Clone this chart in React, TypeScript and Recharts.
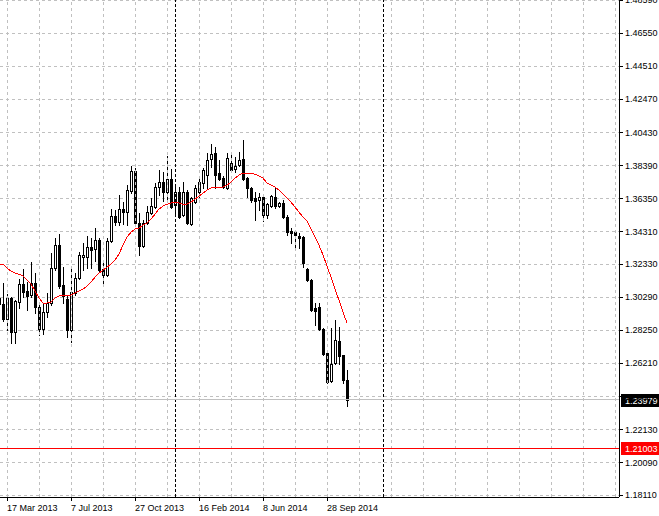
import React from "react";
import { ComposedChart, XAxis, YAxis, Bar, Line, ReferenceLine, CartesianGrid } from "recharts";

// week offset of first candle, relative to the week of 17 Mar 2013
const firstWeek = -2;

const opens = [
  1.2987, 1.2987, 1.2894, 1.3024, 1.2814, 1.2999, 1.3110, 1.3067, 1.3042, 1.3116,
  1.2968, 1.2833, 1.2937, 1.2993, 1.3208, 1.3350, 1.3104, 1.3017, 1.2827, 1.3054,
  1.3147, 1.3276, 1.3276, 1.3338, 1.3325, 1.3381, 1.3202, 1.3165, 1.3375, 1.3529,
  1.3492, 1.3572, 1.3553, 1.3682, 1.3806, 1.3486, 1.3344, 1.3486, 1.3547, 1.3584,
  1.3707, 1.3738, 1.3676, 1.3757, 1.3596, 1.3676, 1.3535, 1.3676, 1.3479, 1.3615,
  1.3676, 1.3732, 1.3781, 1.3880, 1.3916, 1.3793, 1.3763, 1.3701, 1.3855, 1.3818,
  1.3843, 1.3880, 1.3763, 1.3701, 1.3639, 1.3627, 1.3646, 1.3535, 1.3590, 1.3646,
  1.3590, 1.3609, 1.3522, 1.3436, 1.3430, 1.3405, 1.3399, 1.3202, 1.3134, 1.2962,
  1.2968, 1.2833, 1.2685, 1.2513, 1.2624, 1.2759, 1.2673, 1.2519,
];
const highs = [
  1.3061, 1.3116, 1.3048, 1.3030, 1.3011, 1.3141, 1.3202, 1.3122, 1.3245, 1.3178,
  1.2993, 1.2987, 1.3054, 1.3301, 1.3393, 1.3418, 1.3215, 1.3042, 1.3215, 1.3178,
  1.3307, 1.3362, 1.3405, 1.3393, 1.3455, 1.3393, 1.3245, 1.3393, 1.3572, 1.3565,
  1.3658, 1.3615, 1.3720, 1.3837, 1.3824, 1.3547, 1.3504, 1.3590, 1.3639, 1.3732,
  1.3812, 1.3800, 1.3898, 1.3818, 1.3720, 1.3707, 1.3738, 1.3689, 1.3646, 1.3720,
  1.3769, 1.3824, 1.3916, 1.3972, 1.3953, 1.3873, 1.3775, 1.3916, 1.3904, 1.3892,
  1.3923, 1.3996, 1.3769, 1.3707, 1.3676, 1.3670, 1.3652, 1.3609, 1.3658, 1.3707,
  1.3615, 1.3627, 1.3535, 1.3455, 1.3442, 1.3424, 1.3405, 1.3208, 1.3141, 1.2993,
  1.2993, 1.2839, 1.2704, 1.2839, 1.2888, 1.2845, 1.2673, 1.2580,
];
const lows = [
  1.2950, 1.2882, 1.2827, 1.2746, 1.2746, 1.2962, 1.3030, 1.2950, 1.3030, 1.2931,
  1.2796, 1.2802, 1.2907, 1.2981, 1.3196, 1.3085, 1.2993, 1.2783, 1.2753, 1.3042,
  1.3141, 1.3196, 1.3208, 1.3208, 1.3251, 1.3184, 1.3104, 1.3159, 1.3369, 1.3473,
  1.3473, 1.3479, 1.3473, 1.3670, 1.3479, 1.3289, 1.3338, 1.3479, 1.3541, 1.3578,
  1.3658, 1.3621, 1.3621, 1.3578, 1.3535, 1.3516, 1.3529, 1.3479, 1.3473, 1.3609,
  1.3646, 1.3701, 1.3701, 1.3830, 1.3701, 1.3750, 1.3701, 1.3695, 1.3800, 1.3800,
  1.3837, 1.3750, 1.3646, 1.3615, 1.3504, 1.3565, 1.3498, 1.3516, 1.3584, 1.3578,
  1.3584, 1.3516, 1.3412, 1.3362, 1.3332, 1.3332, 1.3215, 1.3128, 1.2944, 1.2857,
  1.2827, 1.2673, 1.2500, 1.2507, 1.2618, 1.2618, 1.2500, 1.2359,
];
const closes = [
  1.3024, 1.2894, 1.3024, 1.2814, 1.3005, 1.3110, 1.3061, 1.3036, 1.3116, 1.2968,
  1.2833, 1.2937, 1.2993, 1.3208, 1.3350, 1.3098, 1.3036, 1.2827, 1.3061, 1.3147,
  1.3289, 1.3289, 1.3338, 1.3319, 1.3381, 1.3196, 1.3165, 1.3375, 1.3529, 1.3492,
  1.3572, 1.3553, 1.3689, 1.3806, 1.3486, 1.3344, 1.3486, 1.3553, 1.3590, 1.3707,
  1.3738, 1.3676, 1.3757, 1.3584, 1.3676, 1.3522, 1.3676, 1.3486, 1.3639, 1.3701,
  1.3738, 1.3812, 1.3873, 1.3910, 1.3781, 1.3757, 1.3707, 1.3886, 1.3812, 1.3837,
  1.3873, 1.3757, 1.3701, 1.3627, 1.3621, 1.3646, 1.3535, 1.3602, 1.3652, 1.3590,
  1.3609, 1.3522, 1.3430, 1.3424, 1.3412, 1.3393, 1.3239, 1.3134, 1.2950, 1.2944,
  1.2833, 1.2679, 1.2507, 1.2618, 1.2765, 1.2667, 1.2519, 1.23979,
];
const maValues = [
  1.3233, 1.3233, 1.3208, 1.3190, 1.3178, 1.3171, 1.3159, 1.3134, 1.3110, 1.3067,
  1.3024, 1.2993, 1.2993, 1.2999, 1.3024, 1.3036, 1.3042, 1.3042, 1.3042, 1.3054,
  1.3067, 1.3079, 1.3098, 1.3122, 1.3153, 1.3178, 1.3196, 1.3215, 1.3233, 1.3258,
  1.3295, 1.3350, 1.3399, 1.3430, 1.3449, 1.3455, 1.3473, 1.3486, 1.3510, 1.3541,
  1.3572, 1.3590, 1.3602, 1.3609, 1.3615, 1.3609, 1.3602, 1.3602, 1.3615, 1.3633,
  1.3652, 1.3670, 1.3689, 1.3701, 1.3707, 1.3707, 1.3707, 1.3720, 1.3738, 1.3763,
  1.3781, 1.3793, 1.3793, 1.3793, 1.3787, 1.3775, 1.3763, 1.3732, 1.3720, 1.3707,
  1.3689, 1.3664, 1.3639, 1.3615, 1.3584, 1.3553, 1.3522, 1.3498, 1.3449, 1.3399,
  1.3350, 1.3289, 1.3221, 1.3153, 1.3079, 1.3011, 1.2937, 1.2870,
];

const dateTicks = [0, 16, 32, 48, 64, 80];
const dateLabels = ["17 Mar 2013", "7 Jul 2013", "27 Oct 2013", "16 Feb 2014", "8 Jun 2014", "28 Sep 2014"];
const gridWeeks = [0, 8, 16, 24, 32, 40, 48, 56, 64, 72, 80, 88, 96, 104, 112, 120, 128, 136, 144, 152];
const yearSeparators = [42, 94];
const priceTicks = [
  1.4859, 1.4655, 1.4451, 1.4247, 1.4043, 1.3839, 1.3635, 1.3431,
  1.3233, 1.3029, 1.2825, 1.2621, 1.2417, 1.2213, 1.2009, 1.1811,
];
const bidPrice = 1.23979;
const levelPrice = 1.21003;
const weekDomain = [-1.75, 153];
const priceDomain = [1.17987, 1.48595];

const data = opens.map((o, k) => ({
  w: firstWeek + k,
  open: o,
  high: highs[k],
  low: lows[k],
  close: closes[k],
  range: [lows[k], highs[k]],
  ma: maValues[k],
}));

const FONT = "'Liberation Sans', Arial, sans-serif";

const Candle = (props: any) => {
  const { x, y, width, height, payload } = props;
  if (x == null || y == null || !payload) return null;
  const top = Math.min(y, y + height);
  const h = Math.abs(height);
  const { open, close, high, low } = payload;
  const span = high - low || 1;
  const py = (v: number) => top + ((high - v) / span) * h;
  const cx = Math.round(x + width / 2);
  const yo = py(open);
  const yc = py(close);
  const bull = close >= open;
  const bTop = Math.round(Math.min(yo, yc));
  const bBot = Math.round(Math.max(yo, yc));
  return (
    <g shapeRendering="crispEdges">
      <line x1={cx + 0.5} x2={cx + 0.5} y1={Math.round(top)} y2={Math.round(top + h) + 1} stroke="#000" strokeWidth={1} />
      {bull ? (
        <rect x={cx - 0.5} y={bTop + 0.5} width={2} height={Math.max(bBot - bTop, 1)} fill="#fff" stroke="#000" strokeWidth={1} />
      ) : (
        <rect x={cx - 1} y={bTop} width={3} height={Math.max(bBot - bTop + 1, 1)} fill="#000" />
      )}
    </g>
  );
};

const XTick = (props: any) => {
  const { x, y, payload } = props;
  const idx = dateTicks.indexOf(payload.value);
  return (
    <text x={x} y={y + 8} textAnchor="start" fontFamily={FONT} fontSize={9} fill="#000">
      {idx >= 0 ? dateLabels[idx] : ""}
    </text>
  );
};

const YTick = (props: any) => {
  const { x, y, payload } = props;
  return (
    <text x={x} y={y + 3} textAnchor="start" fontFamily={FONT} fontSize={9} fill="#000">
      {Number(payload.value).toFixed(5)}
    </text>
  );
};

const PriceTag = (props: any) => {
  const { viewBox, fill, text } = props;
  if (!viewBox) return null;
  const left = viewBox.x + viewBox.width + 2;
  const cy = viewBox.y;
  return (
    <g>
      <rect x={left} y={Math.round(cy) - 6} width={38} height={13} fill={fill} />
      <text x={left + 4} y={Math.round(cy) + 4} textAnchor="start" fontFamily={FONT} fontSize={9} fill="#fff">
        {text}
      </text>
    </g>
  );
};

export default function App() {
  return (
    <div className="mt4" style={{ position: "absolute", left: 0, top: 0, width: 659, height: 516, background: "#fff" }}>
      <style>{`.mt4 svg line, .mt4 svg path, .mt4 svg rect { shape-rendering: crispEdges; }`}</style>
      <ComposedChart width={659} height={516} data={data} margin={{ top: 0, right: 0, bottom: 0, left: 0 }}>
        <CartesianGrid vertical={false} stroke="#c0c0c0" strokeDasharray="3 3" />
        <XAxis
          dataKey="w"
          type="number"
          domain={weekDomain}
          allowDataOverflow
          ticks={dateTicks}
          interval={0}
          height={19}
          tickSize={4}
          stroke="#000"
          tick={<XTick />}
        />
        <YAxis
          orientation="right"
          type="number"
          domain={priceDomain}
          allowDataOverflow
          ticks={priceTicks}
          interval={0}
          width={40}
          tickSize={4}
          stroke="#000"
          tick={<YTick />}
        />
        {gridWeeks.map((w) => (
          <ReferenceLine key={"g" + w} x={w} stroke="#c0c0c0" strokeDasharray="3 3" />
        ))}
        {yearSeparators.map((w) => (
          <ReferenceLine key={"s" + w} x={w} stroke="#000" strokeDasharray="3 2" />
        ))}
        <ReferenceLine y={levelPrice} stroke="#ff0000" label={<PriceTag fill="#ff0000" text={levelPrice.toFixed(5)} />} />
        <ReferenceLine y={bidPrice} stroke="#c0c0c0" label={<PriceTag fill="#000000" text={bidPrice.toFixed(5)} />} />
        <Bar dataKey="range" barSize={3} shape={<Candle />} isAnimationActive={false} />
        <Line dataKey="ma" type="linear" stroke="#ff0000" strokeWidth={1} dot={false} isAnimationActive={false} />
      </ComposedChart>
    </div>
  );
}
